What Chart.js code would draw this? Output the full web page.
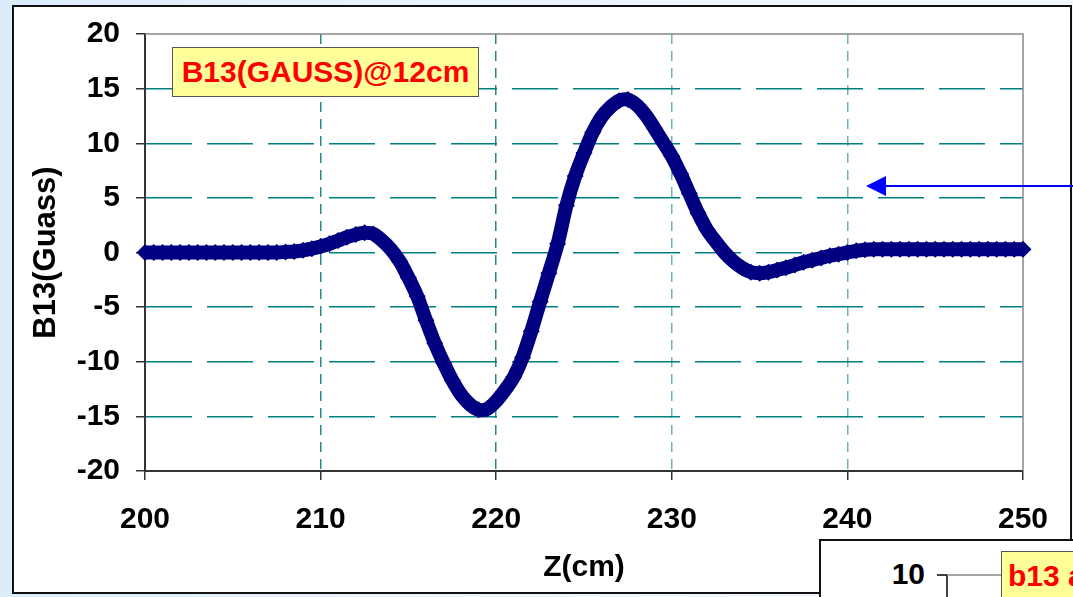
<!DOCTYPE html>
<html lang="en">
<head>
    <meta charset="UTF-8">
    <title>B13 field at 12cm</title>
    <script src="https://cdn.jsdelivr.net/npm/chart.js"></script>
    <style>
        html, body {
            margin: 0;
            padding: 0;
            width: 1073px;
            height: 597px;
            overflow: hidden;
            background: linear-gradient(90deg, #dcecfb, #eaf4fe 40%, #f3f8fe);
            font-family: Arial, "Liberation Sans", sans-serif;
        }
        .frame {
            position: absolute;
            left: 12px;
            top: 5px;
            width: 1056px;
            height: 585px;
            background: white;
            border: 2px solid #111;
        }
        #fieldChart {
            position: absolute;
            left: 0;
            top: 0;
        }
        .label {
            position: absolute;
            left: 172px;
            top: 47px;
            width: 305px;
            height: 48px;
            background: #ffff99;
            border: 1px solid #555;
            color: #ff0000;
            font-weight: bold;
            font-size: 30px;
            line-height: 48px;
            text-align: center;
        }
        .second {
            position: absolute;
            left: 819px;
            top: 539px;
            width: 300px;
            height: 100px;
            background: white;
            border: 2px solid #111;
            overflow: hidden;
        }
        .second .tick10 {
            position: absolute;
            left: 44px;
            top: 16px;
            width: 60px;
            text-align: right;
            font-weight: bold;
            font-size: 30px;
        }
        .second .b13 {
            position: absolute;
            left: 180px;
            top: 10px;
            width: 200px;
            height: 48px;
            background: #ffff99;
            border: 1px solid #555;
            color: #ff0000;
            font-weight: bold;
            font-size: 30px;
            line-height: 48px;
            padding-left: 6px;
            white-space: nowrap;
        }
        svg {
            position: absolute;
            left: 0;
            top: 0;
        }
    </style>
</head>
<body>
    <div class="frame"></div>
    <canvas id="fieldChart" width="1073" height="597"></canvas>
    <div class="label">B13(GAUSS)@12cm</div>
    <div class="second">
        <div class="tick10">10</div>
        <svg width="300" height="100">
            <line x1="116" y1="34" x2="126" y2="34" stroke="#000" stroke-width="1.5"/>
            <line x1="126" y1="34" x2="126" y2="100" stroke="#000" stroke-width="1.5"/>
            <line x1="126" y1="34" x2="181" y2="34" stroke="#888" stroke-width="1.5"/>
        </svg>
        <div class="b13">b13 at 12cm</div>
    </div>
    <svg width="1073" height="597">
        <line x1="884" y1="186" x2="1073" y2="186" stroke="#0000ff" stroke-width="2"/>
        <polygon points="866,186 886,176 886,196" fill="#0000ff"/>
    </svg>
    <script>
        // Z position along the axis (cm)
        const zPositions = [
            200, 200.5, 201, 201.5, 202, 202.5, 203, 203.5, 204, 204.5,
            205, 205.5, 206, 206.5, 207, 207.5, 208, 208.5, 209, 209.5,
            210, 210.5, 211, 211.5, 212, 212.5, 213, 213.5, 214, 214.5,
            215, 215.5, 216, 216.5, 217, 217.5, 218, 218.5, 219, 219.5,
            220, 220.5, 221, 221.5, 222, 222.5, 223, 223.5, 224, 224.5,
            225, 225.5, 226, 226.5, 227, 227.5, 228, 228.5, 229, 229.5,
            230, 230.5, 231, 231.5, 232, 232.5, 233, 233.5, 234, 234.5,
            235, 235.5, 236, 236.5, 237, 237.5, 238, 238.5, 239, 239.5,
            240, 240.5, 241, 241.5, 242, 242.5, 243, 243.5, 244, 244.5,
            245, 245.5, 246, 246.5, 247, 247.5, 248, 248.5, 249, 249.5,
            250
        ];
        // B13 (Gauss)
        const b13Values = [
            0, 0, 0, 0, 0, 0, 0, 0, 0, 0,
            0, 0, 0, 0, 0, 0, 0.05, 0.1, 0.2, 0.35,
            0.55, 0.8, 1.1, 1.4, 1.65, 1.8, 1.7, 1.1, 0.3, -0.8,
            -2.3, -4.0, -6.2, -8.3, -10.1, -11.7, -13.0, -13.9, -14.4, -14.3,
            -13.6, -12.6, -11.4, -9.6, -7.2, -4.5, -1.9, 0.8, 4.3, 7.0,
            9.1, 11.0, 12.4, 13.3, 13.9, 14.0, 13.5, 12.6, 11.4, 10.1,
            8.8, 7.2, 5.4, 3.6, 2.1, 1.0, 0.0, -0.8, -1.4, -1.8,
            -1.9, -1.8, -1.6, -1.4, -1.15, -0.9, -0.7, -0.5, -0.3, -0.15,
            0.0, 0.15, 0.25, 0.3, 0.3, 0.3, 0.3, 0.3, 0.3, 0.3,
            0.3, 0.3, 0.3, 0.3, 0.3, 0.3, 0.3, 0.3, 0.3, 0.3,
            0.3
        ];
        const xTicks = [200, 210, 220, 230, 240, 250];
        const yTicks = [-20, -15, -10, -5, 0, 5, 10, 15, 20];

        const points = zPositions.map((z, i) => ({ x: z, y: b13Values[i] }));
        const fontFamily = 'Arial, "Liberation Sans", sans-serif';

        // gray plot-area border on top and right
        const plotBorder = {
            id: "plotBorder",
            beforeDatasetsDraw(chart) {
                const a = chart.chartArea;
                const ctx = chart.ctx;
                ctx.save();
                ctx.strokeStyle = "#888";
                ctx.lineWidth = 1.5;
                ctx.beginPath();
                ctx.moveTo(a.left, a.top);
                ctx.lineTo(a.right, a.top);
                ctx.lineTo(a.right, a.bottom);
                ctx.stroke();
                ctx.restore();
            }
        };

        new Chart(document.getElementById("fieldChart"), {
            type: "line",
            data: {
                datasets: [{
                    data: points,
                    borderColor: "#000080",
                    backgroundColor: "#000080",
                    borderWidth: 14,
                    pointStyle: "rectRot",
                    pointRadius: 8.5,
                    pointBorderWidth: 0,
                    tension: 0.3,
                    clip: false
                }]
            },
            options: {
                responsive: false,
                animation: false,
                layout: { padding: { left: 0, top: 32, right: 50, bottom: 0 } },
                plugins: {
                    legend: { display: false },
                    tooltip: { enabled: false }
                },
                scales: {
                    x: {
                        type: "linear",
                        min: 200,
                        max: 250,
                        afterFit: s => { s.height = 126; },
                        afterBuildTicks: s => { s.ticks = xTicks.map(v => ({ value: v })); },
                        ticks: {
                            color: "#000",
                            padding: 22,
                            font: { family: fontFamily, size: 30, weight: "bold" }
                        },
                        grid: {
                            color: c => {
                                const v = c.tick ? c.tick.value : 0;
                                if (v === 210 || v === 220) return "#2a8585";
                                if (v === 230 || v === 240) return "#6ab5b5";
                                return "rgba(0,0,0,0)";
                            },
                            tickColor: "#333",
                            tickLength: 9,
                            lineWidth: 1.5
                        },
                        border: { color: "#333", width: 2, dash: [10, 7] },
                        title: {
                            display: true,
                            text: "Z(cm)",
                            color: "#000",
                            padding: { top: 0, bottom: 11 },
                            font: { family: fontFamily, size: 30, weight: "bold" }
                        }
                    },
                    y: {
                        min: -20,
                        max: 20,
                        afterFit: s => { s.width = 145; },
                        afterBuildTicks: s => { s.ticks = yTicks.map(v => ({ value: v })); },
                        ticks: {
                            color: "#000",
                            padding: 16,
                            font: { family: fontFamily, size: 30, weight: "bold" }
                        },
                        grid: {
                            color: c => {
                                const v = c.tick ? c.tick.value : 0;
                                return (v === 20 || v === -20) ? "rgba(0,0,0,0)" : "#008080";
                            },
                            tickColor: "#333",
                            tickLength: 9,
                            lineWidth: 1.5
                        },
                        border: { color: "#333", width: 2, dash: [46, 15] },
                        title: {
                            display: true,
                            text: "B13(Guass)",
                            color: "#000",
                            padding: { top: 28, bottom: 0 },
                            font: { family: fontFamily, size: 31, weight: "bold" }
                        }
                    }
                }
            },
            plugins: [plotBorder]
        });
    </script>
</body>
</html>
